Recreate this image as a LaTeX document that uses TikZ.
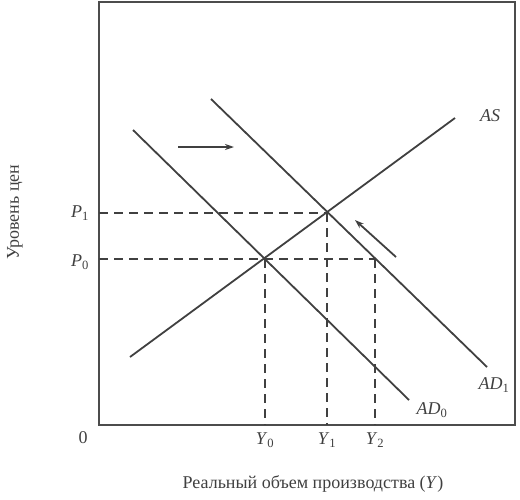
\documentclass[tikz,border=0pt]{standalone}
\usepackage{fontspec}
\setmainfont{Liberation Serif}
\usetikzlibrary{arrows.meta}

\begin{document}
\begin{tikzpicture}[
    x=1pt, y=-1pt,
    font=\fontsize{18}{20}\selectfont,
    >={Stealth[length=9pt, width=6pt]},
    frame/.style={draw=black!70, line width=1.3pt},
    curve/.style={draw=black!75, line width=1.8pt},
    guide/.style={draw=black!75, line width=1.2pt, dash pattern=on 9pt off 6pt},
    shiftarrow/.style={->, draw=black!75, line width=1.8pt},
    lbl/.style={text=black!75, inner sep=0pt}
]
    \useasboundingbox (0,0) rectangle (520,499);
    % axes box
    \coordinate (O) at (99,425);
    \coordinate (TR) at (515,2);
    \draw[frame] (O) rectangle (TR);
    % equilibrium points
    \coordinate (E0) at (265,259);
    \coordinate (E1) at (327,213);
    \coordinate (Y2top) at (375,259);
    % curves
    \coordinate (ASa) at (130,357);
    \coordinate (ASb) at (455,118);
    \coordinate (AD0a) at (133,130);
    \coordinate (AD0b) at (409,400);
    \coordinate (AD1a) at (211,99);
    \coordinate (AD1b) at (487,367);
    \draw[curve] (ASa) -- (ASb);
    \draw[curve] (AD0a) -- (AD0b);
    \draw[curve] (AD1a) -- (AD1b);
    % dashed guides
    \draw[guide] (O |- E1) -- (E1);
    \draw[guide] (O |- E0) -- (Y2top);
    \draw[guide] (E0) -- (E0 |- O);
    \draw[guide] (E1) -- (E1 |- O);
    \draw[guide] (Y2top) -- (Y2top |- O);
    % shift arrows
    \coordinate (s1a) at (178,147);
    \coordinate (s1b) at (234,147);
    \coordinate (s2a) at (396,257);
    \coordinate (s2b) at (355,220);
    \draw[shiftarrow] (s1a) -- (s1b);
    \draw[shiftarrow] (s2a) -- (s2b);
    % labels
    \node[lbl] (lAS) at (490,116) {\textit{AS}};
    \node[lbl] (lAD1) at (494,385) {\textit{AD}\textsubscript{1}};
    \node[lbl] (lAD0) at (432,410) {\textit{AD}\textsubscript{0}};
    \node[lbl] (lP1) at (80,213) {\textit{P}\textsubscript{1}};
    \node[lbl] (lP0) at (80,262) {\textit{P}\textsubscript{0}};
    \node[lbl] (lO) at (83,438) {0};
    \node[lbl] (lY0) at (265,440) {\textit{Y}\textsubscript{0}};
    \node[lbl] (lY1) at (327,440) {\textit{Y}\textsubscript{1}};
    \node[lbl] (lY2) at (375,440) {\textit{Y}\textsubscript{2}};
    \node[lbl] (xlab) at (313,484) {Реальный объем производства (\textit{Y})};
    \node[lbl, rotate=90] (ylab) at (15,212) {Уровень цен};
\end{tikzpicture}
\end{document}
